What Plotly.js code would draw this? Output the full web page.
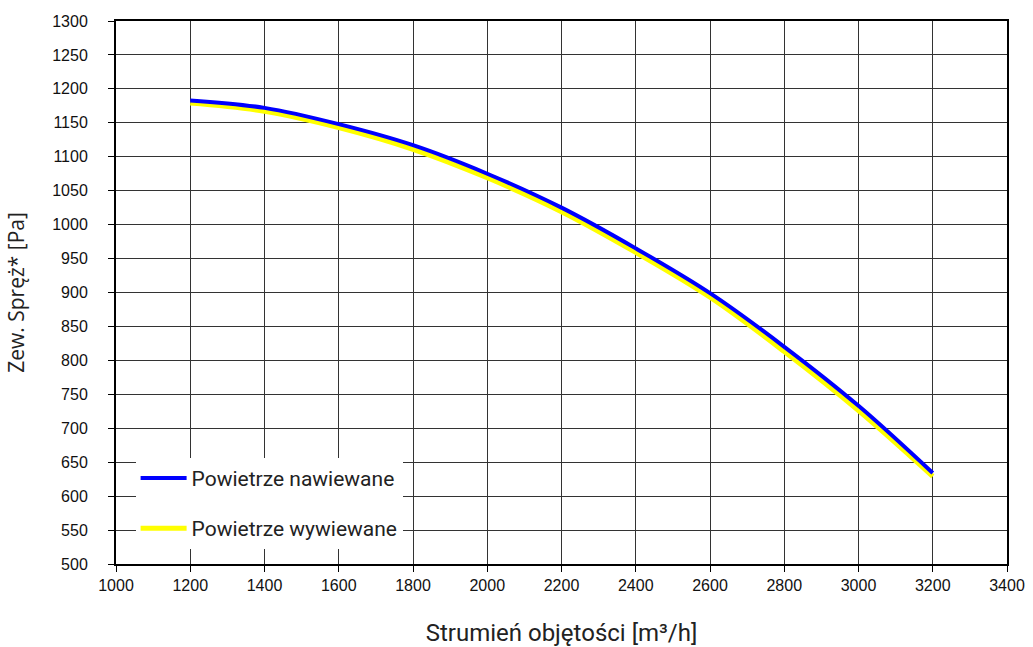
<!DOCTYPE html>
<html>
<head>
<meta charset="utf-8">
<script src="https://cdn.plot.ly/plotly-3.0.1.min.js"></script>
<style>html,body{margin:0;padding:0;background:#fff;}#chart{width:1033px;height:647px;}</style>
</head>
<body>
<div id="chart"></div>
<script>
const flow = [1200, 1400, 1600, 1800, 2000, 2200, 2400, 2600, 2800, 3000, 3200];
const supplyPa = [1183, 1172, 1148, 1117, 1075, 1025, 965, 899, 820, 733, 634];
const exhaustPa = [1179, 1167, 1143, 1111, 1069, 1019, 959, 893, 813, 726, 629];
const supplyName = 'Powietrze nawiewane';
const exhaustName = 'Powietrze wywiewane';
const xTitle = 'Strumień objętości [m³/h]';
const yTitle = 'Zew. Spręż* [Pa]';
const xTicks = [1000,1200,1400,1600,1800,2000,2200,2400,2600,2800,3000,3200,3400];

const traces = [
  {x: flow, y: exhaustPa, name: exhaustName, type: 'scatter', mode: 'lines',
   line: {color: '#ffff00', width: 5, shape: 'spline'}, legendgroup: 'b', legendrank: 2},
  {x: flow, y: supplyPa, name: supplyName, type: 'scatter', mode: 'lines',
   line: {color: '#0000ff', width: 4, shape: 'spline'}, legendgroup: 'a', legendrank: 1}
];

const tickFont = {family: "'Liberation Sans', Arial, sans-serif", size: 16, color: '#111'};
const axisCommon = {
  showgrid: true, gridcolor: '#333', gridwidth: 1,
  showline: true, linecolor: '#000', linewidth: 2, mirror: true,
  ticks: 'outside', ticklen: 6, tickcolor: '#000', tickwidth: 1,
  zeroline: false, tickfont: tickFont
};

const layout = {
  width: 1033, height: 647,
  margin: {l: 116, r: 26, t: 21, b: 83},
  paper_bgcolor: '#fff', plot_bgcolor: '#fff',
  showlegend: true,
  legend: {
    x: 0.022, y: 0.028, xanchor: 'left', yanchor: 'bottom',
    bgcolor: '#fff', borderwidth: 0, traceorder: 'grouped', tracegroupgap: 20,
    itemwidth: 46,
    font: {family: 'Roboto, sans-serif', size: 21, color: '#222'}
  },
  xaxis: Object.assign({}, axisCommon, {
    range: [1000, 3400], tickvals: xTicks,
    title: {text: xTitle, standoff: 33, font: {family: 'Roboto, sans-serif', size: 24, color: '#222'}}
  }),
  yaxis: Object.assign({}, axisCommon, {
    range: [500, 1300], dtick: 50, ticklabelstandoff: 17,
    title: {text: yTitle, standoff: 22, font: {family: "'Open Sans', sans-serif", size: 21, color: '#222'}}
  })
};

Plotly.newPlot('chart', traces, layout, {displayModeBar: false, staticPlot: true});
</script>
</body>
</html>
